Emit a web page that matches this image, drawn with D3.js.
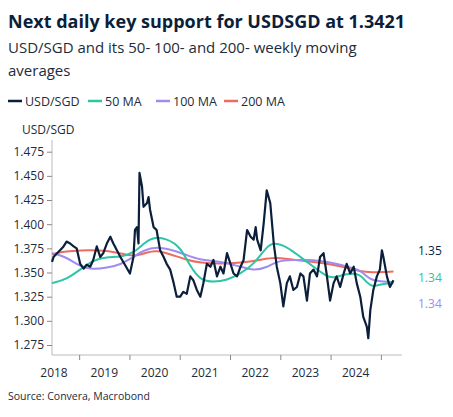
<!DOCTYPE html><html><head><meta charset="utf-8"><script src="https://cdn.jsdelivr.net/npm/d3@7"></script>
<style>body{margin:0;background:#fff;font-family:"Open Sans",sans-serif}</style></head><body><svg id="c" width="453" height="417"></svg>
<script>
const spot=[[2018.46,1.361],[2018.49,1.366],[2018.56,1.370],[2018.62,1.373],[2018.69,1.377],[2018.75,1.382],[2018.82,1.380],[2018.89,1.377],[2018.95,1.375],[2019.02,1.359],[2019.09,1.354],[2019.15,1.358],[2019.22,1.356],[2019.28,1.363],[2019.35,1.377],[2019.42,1.366],[2019.48,1.370],[2019.55,1.380],[2019.62,1.387],[2019.68,1.380],[2019.75,1.373],[2019.82,1.366],[2019.91,1.358],[2020.01,1.349],[2020.08,1.366],[2020.11,1.394],[2020.15,1.397],[2020.18,1.380],[2020.20,1.453],[2020.25,1.439],[2020.28,1.418],[2020.35,1.422],[2020.38,1.428],[2020.41,1.415],[2020.48,1.397],[2020.54,1.394],[2020.61,1.373],[2020.68,1.366],[2020.74,1.359],[2020.81,1.353],[2020.88,1.339],[2020.94,1.325],[2021.01,1.325],[2021.07,1.330],[2021.14,1.328],[2021.21,1.346],[2021.27,1.342],[2021.34,1.332],[2021.41,1.325],[2021.47,1.339],[2021.54,1.359],[2021.61,1.356],[2021.67,1.363],[2021.74,1.346],[2021.81,1.356],[2021.87,1.349],[2021.94,1.370],[2022.01,1.359],[2022.07,1.349],[2022.14,1.346],[2022.21,1.356],[2022.27,1.363],[2022.34,1.394],[2022.41,1.387],[2022.47,1.384],[2022.51,1.397],[2022.54,1.384],[2022.61,1.373],[2022.67,1.401],[2022.73,1.435],[2022.80,1.422],[2022.87,1.380],[2022.93,1.356],[2023.00,1.339],[2023.06,1.315],[2023.13,1.339],[2023.19,1.346],[2023.26,1.332],[2023.33,1.335],[2023.40,1.349],[2023.46,1.346],[2023.53,1.321],[2023.59,1.349],[2023.66,1.353],[2023.73,1.346],[2023.79,1.366],[2023.86,1.370],[2023.92,1.349],[2023.99,1.321],[2024.06,1.339],[2024.12,1.346],[2024.19,1.335],[2024.26,1.349],[2024.32,1.359],[2024.39,1.349],[2024.46,1.356],[2024.52,1.339],[2024.59,1.325],[2024.65,1.304],[2024.72,1.294],[2024.75,1.282],[2024.79,1.311],[2024.85,1.332],[2024.92,1.346],[2024.98,1.353],[2025.02,1.373],[2025.05,1.366],[2025.12,1.346],[2025.18,1.335],[2025.25,1.342]];
const ma50=[[2018.46,1.339],[2018.75,1.343],[2019.02,1.353],[2019.28,1.363],[2019.55,1.366],[2019.82,1.366],[2020.08,1.370],[2020.28,1.380],[2020.48,1.387],[2020.74,1.385],[2021.01,1.377],[2021.21,1.356],[2021.41,1.342],[2021.67,1.340],[2021.94,1.342],[2022.21,1.349],[2022.47,1.358],[2022.73,1.377],[2022.87,1.381],[2023.13,1.377],[2023.40,1.366],[2023.66,1.356],[2023.92,1.346],[2024.06,1.344],[2024.32,1.349],[2024.59,1.349],[2024.72,1.339],[2024.85,1.335],[2024.98,1.338],[2025.25,1.339]];
const ma100=[[2018.46,1.370],[2018.75,1.366],[2019.02,1.356],[2019.28,1.353],[2019.55,1.355],[2019.82,1.358],[2020.08,1.366],[2020.28,1.373],[2020.54,1.377],[2020.88,1.373],[2021.14,1.368],[2021.41,1.363],[2021.67,1.362],[2021.94,1.360],[2022.21,1.356],[2022.47,1.352],[2022.73,1.355],[2022.93,1.362],[2023.26,1.363],[2023.53,1.363],[2023.79,1.362],[2024.06,1.360],[2024.32,1.356],[2024.59,1.353],[2024.79,1.342],[2024.98,1.341],[2025.25,1.340]];
const ma200=[[2018.46,1.369],[2018.75,1.372],[2019.02,1.373],[2019.42,1.373],[2019.75,1.371],[2020.08,1.366],[2020.35,1.371],[2020.54,1.373],[2020.81,1.369],[2021.14,1.363],[2021.41,1.360],[2021.81,1.359],[2022.21,1.360],[2022.61,1.363],[2022.87,1.366],[2023.26,1.363],[2023.66,1.361],[2024.06,1.358],[2024.32,1.355],[2024.59,1.351],[2024.79,1.350],[2025.25,1.351]];
const yTicks=[1.275,1.300,1.325,1.350,1.375,1.400,1.425,1.450,1.475];
const years=[2018,2019,2020,2021,2022,2023,2024];
const series=[{name:"USD/SGD",data:spot,color:"#0b1f3a"},{name:"50 MA",data:ma50,color:"#2ec4a6"},{name:"100 MA",data:ma100,color:"#a08bf0"},{name:"200 MA",data:ma200,color:"#ee6b5e"}];
const endLabels=[{t:"1.35",c:"#0b1f3a",y:251},{t:"1.34",c:"#2ec4a6",y:278},{t:"1.34",c:"#a08bf0",y:304}];

const svg=d3.select("#c");
const x=d3.scaleLinear().domain([2018.46,2025.42]).range([52,402]);
const y=d3.scaleLinear().domain([1.275,1.475]).range([345,151.7]);
svg.append("text").attr("x",8).attr("y",28).attr("font-size",18).attr("font-weight",700).attr("fill","#0b1f3a").text("Next daily key support for USDSGD at 1.3421");
svg.append("text").attr("x",8).attr("y",53).attr("font-size",15).attr("fill","#1d2b3a").text("USD/SGD and its 50- 100- and 200- weekly moving");
svg.append("text").attr("x",8).attr("y",76).attr("font-size",15).attr("fill","#1d2b3a").text("averages");
let lx=8;
const lw=[80,68,68,70];
series.forEach((s,i)=>{
  svg.append("line").attr("x1",lx).attr("x2",lx+14).attr("y1",101).attr("y2",101).attr("stroke",s.color).attr("stroke-width",2.5);
  svg.append("text").attr("x",lx+17).attr("y",106).attr("font-size",12.5).attr("fill","#1d2b3a").text(s.name);
  lx+=lw[i];
});
svg.append("text").attr("x",22).attr("y",134).attr("font-size",12).attr("fill","#1d2b3a").text("USD/SGD");
const ya=svg.append("g").attr("transform","translate(52,0)").call(d3.axisLeft(y).tickValues(yTicks).tickFormat(d3.format(".3f")).tickSize(5).tickSizeOuter(0));
ya.select(".domain").attr("stroke","#bbb").attr("d","M0,140V355");
ya.selectAll("line").attr("stroke","#888");
ya.selectAll("text").attr("font-size",12).attr("fill","#1d2b3a").attr("font-family","Open Sans");
const xa=svg.append("g").attr("transform","translate(0,355)").call(d3.axisBottom(x).tickValues(d3.range(2019,2026)).tickFormat("").tickSize(5).tickSizeOuter(0));
xa.select(".domain").attr("stroke","#bbb").attr("d","M52,0H402");
xa.selectAll("line").attr("stroke","#888");
svg.selectAll(".yl").data(years).join("text").attr("x",d=>x(d+0.5)).attr("y",377).attr("text-anchor","middle").attr("font-size",12).attr("fill","#1d2b3a").text(d=>d);
const line=d3.line().x(d=>x(d[0])).y(d=>y(d[1]));
[3,2,1,0].forEach(i=>{const s=series[i];
  svg.append("path").datum(s.data).attr("d",line.curve(i?d3.curveBasis:d3.curveLinear)).attr("fill","none").attr("stroke",s.color).attr("stroke-width",i?2:2.2).attr("stroke-linejoin","round");});
endLabels.forEach(e=>svg.append("text").attr("x",418).attr("y",e.y+4).attr("font-size",12).attr("fill",e.c).text(e.t));
svg.append("text").attr("x",8).attr("y",400).attr("font-size",10.5).attr("fill","#1d2b3a").text("Source: Convera, Macrobond");
</script></body></html>
